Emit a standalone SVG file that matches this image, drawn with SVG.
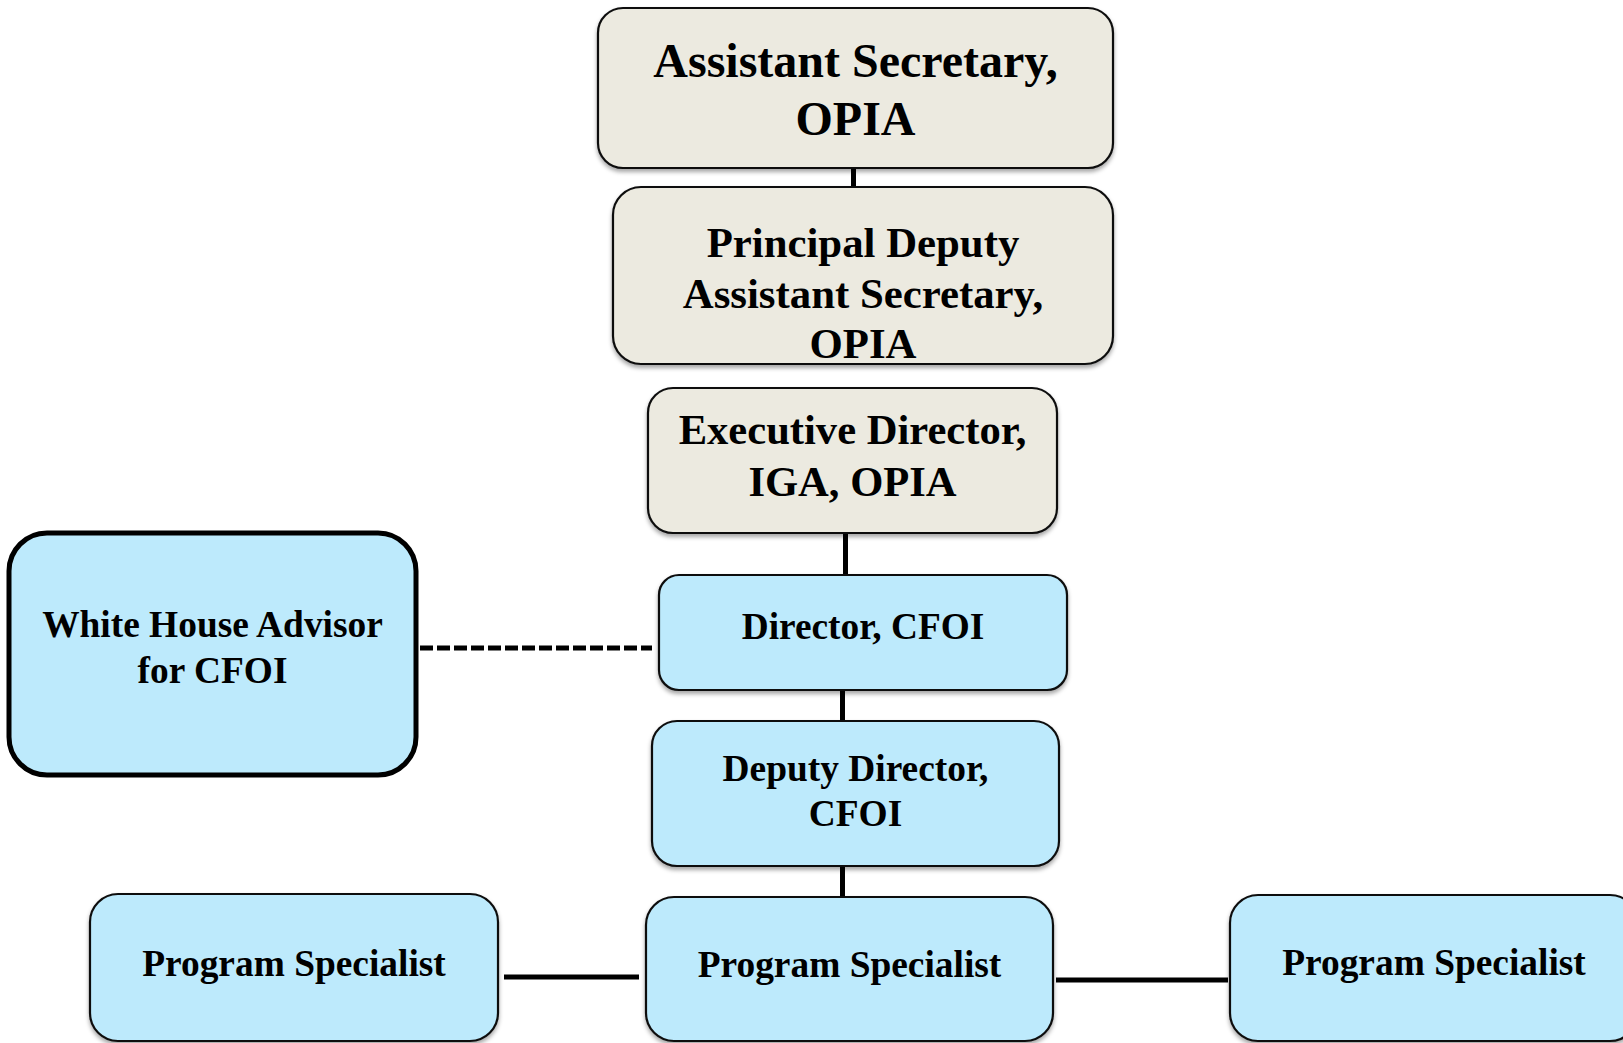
<svg xmlns="http://www.w3.org/2000/svg" width="1623" height="1043" viewBox="0 0 1623 1043">
<style>
.b{fill:#ECEAE0;stroke:#111;stroke-width:2.2;filter:url(#sh)}
.c{fill:#BDEAFC;stroke:#111;stroke-width:2.2;filter:url(#sh)}
.w{fill:#BDEAFC;stroke:#000;stroke-width:5}
text{font-family:"Liberation Serif","Times New Roman",serif;font-weight:bold;fill:#000;text-anchor:middle}
.ln{stroke:#000;stroke-width:5;fill:none}
</style>
<defs>
<filter id="sh" x="-10%" y="-10%" width="120%" height="130%">
<feDropShadow dx="0" dy="3" stdDeviation="2" flood-color="#000" flood-opacity="0.35"/>
</filter>
</defs>
<rect width="1623" height="1043" fill="#fff"/>
<g id="connectors">
<line class="ln" x1="853.5" y1="167" x2="853.5" y2="188"/>
<line class="ln" x1="845.5" y1="533" x2="845.5" y2="575"/>
<line class="ln" x1="842.5" y1="690" x2="842.5" y2="721"/>
<line class="ln" x1="842.5" y1="866" x2="842.5" y2="897"/>
<line class="ln" x1="420" y1="648" x2="652" y2="648" stroke-dasharray="13 4"/>
<line class="ln" x1="504" y1="977" x2="639" y2="977"/>
<line class="ln" x1="1056" y1="980" x2="1228" y2="980"/>
</g>
<g id="n1">
<rect class="b" x="598" y="8" width="515" height="160" rx="25"/>
<text x="855.5" y="77" font-size="48">Assistant Secretary,</text>
<text x="855.5" y="135" font-size="48">OPIA</text>
</g>
<g id="n2">
<rect class="b" x="613" y="187" width="500" height="177" rx="28"/>
<text x="863" y="257" font-size="42.8">Principal Deputy</text>
<text x="863" y="308" font-size="42.8">Assistant Secretary,</text>
<text x="863" y="358" font-size="42.8">OPIA</text>
</g>
<g id="n3">
<rect class="b" x="648" y="388" width="409" height="145" rx="25"/>
<text x="852.5" y="444" font-size="42.6">Executive Director,</text>
<text x="852.5" y="496" font-size="42.6">IGA, OPIA</text>
</g>
<g id="n4">
<rect class="c" x="659" y="575" width="408" height="115" rx="20"/>
<text x="863" y="639" font-size="37.3">Director, CFOI</text>
</g>
<g id="n5">
<rect class="w" x="9" y="533" width="407" height="242" rx="38"/>
<text x="212.5" y="637" font-size="37.4">White House Advisor</text>
<text x="212.5" y="683" font-size="37.4">for CFOI</text>
</g>
<g id="n6">
<rect class="c" x="652" y="721" width="407" height="145" rx="25"/>
<text x="855.5" y="781" font-size="37.4">Deputy Director,</text>
<text x="855.5" y="826" font-size="37.4">CFOI</text>
</g>
<g id="n7">
<rect class="c" x="90" y="894" width="408" height="147" rx="28"/>
<text x="294" y="976" font-size="37.4">Program Specialist</text>
</g>
<g id="n8">
<rect class="c" x="646" y="897" width="407" height="144" rx="28"/>
<text x="849.5" y="977" font-size="37.4">Program Specialist</text>
</g>
<g id="n9">
<rect class="c" x="1230" y="895" width="408" height="146" rx="28"/>
<text x="1434" y="975" font-size="37.4">Program Specialist</text>
</g>
</svg>
